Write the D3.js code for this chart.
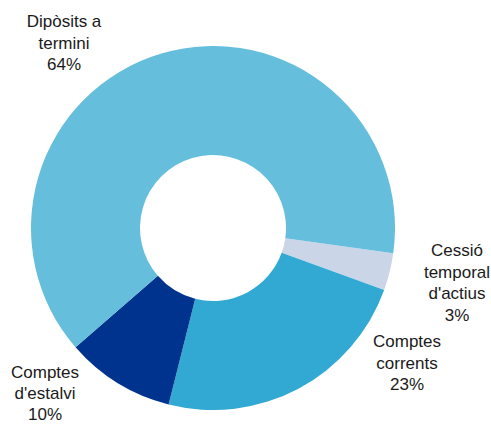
<!DOCTYPE html>
<html>
<head>
<meta charset="utf-8">
<script src="https://cdn.jsdelivr.net/npm/d3@7"></script>
<style>
html,body{margin:0;padding:0;background:#fff;}
svg{display:block;}
text{font-family:"Liberation Sans",Arial,sans-serif;font-size:17px;fill:#1a1a1a;}
</style>
</head>
<body>
<svg id="chart" width="491" height="425"></svg>
<script>
const categories = ["Cessió temporal d'actius", "Comptes corrents", "Comptes d'estalvi", "Dipòsits a termini"];
const values = [3.3, 23.4, 9.7, 63.6];
const labelLines = [
  ["Cessió", "temporal", "d'actius", "3%"],
  ["Comptes", "corrents", "23%"],
  ["Comptes", "d'estalvi", "10%"],
  ["Dipòsits a", "termini", "64%"]
];
const colors = ["#CBD5E8", "#31A9D3", "#00338D", "#65BEDC"];

const svg = d3.select("#chart");
const cx = 213, cy = 228, rOuter = 182, rInner = 73;
const g = svg.append("g").attr("transform", `translate(${cx},${cy})`);

const startDeg = 98;
const pie = d3.pie().sort(null).value(d => d)
  .startAngle(startDeg * Math.PI / 180)
  .endAngle((startDeg + 360) * Math.PI / 180);
const arc = d3.arc().innerRadius(rInner).outerRadius(rOuter);
const color = d3.scaleOrdinal().domain(categories).range(colors);

const arcs = pie(values);
g.selectAll("path").data(arcs).join("path")
  .attr("d", arc)
  .attr("fill", (d, i) => color(categories[i]));

// label anchor positions (center x, first baseline y) in page coords
const labelPos = [[457, 256], [407, 347], [45, 378], [64, 27]];
const lineH = [21.5, 21.5, 21, 21.5];
labelLines.forEach((lines, i) => {
  const t = svg.append("text")
    .attr("text-anchor", "middle")
    .attr("x", labelPos[i][0]).attr("y", labelPos[i][1]);
  lines.forEach((l, j) => {
    t.append("tspan").attr("x", labelPos[i][0]).attr("dy", j === 0 ? 0 : lineH[i]).text(l);
  });
});
</script>
</body>
</html>
